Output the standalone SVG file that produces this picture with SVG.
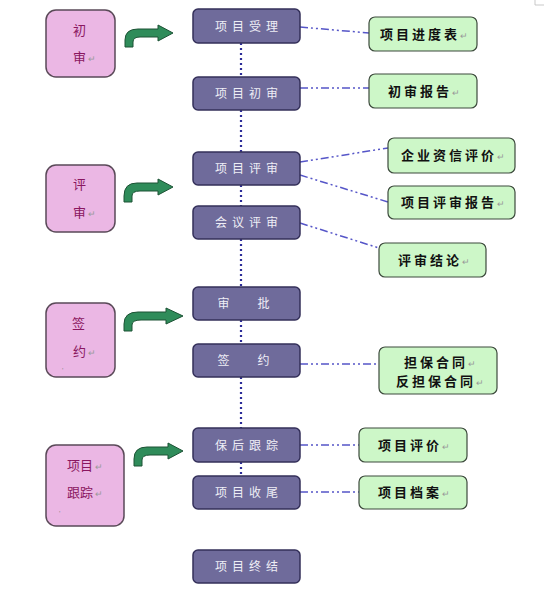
<svg xmlns="http://www.w3.org/2000/svg" width="544" height="599" viewBox="0 0 544 599">
<style>
.pink{fill:#ebb7e4;stroke:#5a4a58;stroke-width:1.5}
.purp{fill:#6f6b9b;stroke:#34305a;stroke-width:1.5}
.green{fill:#cdf7c8;stroke:#3c4a3c;stroke-width:1.2}
.arr{fill:#2f8c5a;stroke:#1c5234;stroke-width:1}
.pt{font-family:"Noto Sans CJK SC",sans-serif;font-size:13px;fill:#8a1660}
.ut{font-family:"Noto Sans CJK SC",sans-serif;font-size:12px;fill:#eeeef6;letter-spacing:5px;text-anchor:middle}
.gt{font-family:"Noto Sans CJK SC",sans-serif;font-size:13px;font-weight:bold;fill:#111;letter-spacing:3px;text-anchor:middle}
.ret{fill:#999;font-weight:normal;font-size:9px;letter-spacing:0}
.vdot{stroke:#2c2c98;stroke-width:2.2;stroke-dasharray:2,3;fill:none}
.dd{stroke:#5656c8;stroke-width:1.5;stroke-dasharray:8,3,2,3,2,3;fill:none}
</style>
<rect x="0" y="0" width="544" height="599" fill="#ffffff"/>
<path d="M535,0 V5 H544" stroke="#bbb" stroke-width="0.8" fill="none"/>

<g id="connectors">
<path class="vdot" d="M241,43 V77 M241,110 V152 M241,185 V206 M241,239 V287 M241,320 V344 M241,377 V428 M241,462 V476"/>
<path class="dd" d="M300,27 L369,33"/>
<path class="dd" d="M300,88 L369,88"/>
<path class="dd" d="M300,162 L388,148"/>
<path class="dd" d="M300,175 L388,202"/>
<path class="dd" d="M300,223 L379,248"/>
<path class="dd" d="M300,364 L379,364"/>
<path class="dd" d="M300,445 L359,445"/>
<path class="dd" d="M300,492 L359,492"/>
<path class="arr" d="M125,47 L125,40 Q125,29 138,29 L158,29 L158,25 L173,33 L158,41 L158,37 L140,37 Q133,37 133,42 L133,47 Z"/>
<path class="arr" d="M124,202 L124,196 Q124,183 137,183 L158,183 L158,179 L173,187 L158,195 L158,191 L140,191 Q132,191 132,196 L132,202 Z"/>
<path class="arr" d="M124,331 L124,324 Q124,312 138,312 L166,312 L166,308 L183,316 L166,324 L166,320 L141,320 Q132,320 132,325 L132,331 Z"/>
<path class="arr" d="M134,466 L134,459 Q134,447 147,447 L168,447 L168,443 L183,451 L168,459 L168,455 L150,455 Q142,455 142,460 L142,466 Z"/>
</g>

<g id="stage1"><rect class="pink" x="46" y="10" width="69" height="67" rx="10"/>
<text class="pt" x="73" y="35">初</text><text class="pt" x="73" y="62">审<tspan class="ret" dx="2">↵</tspan></text></g>
<g id="stage2"><rect class="pink" x="46" y="165" width="69" height="67" rx="10"/>
<text class="pt" x="73" y="189">评</text><text class="pt" x="73" y="217">审<tspan class="ret" dx="2">↵</tspan></text></g>
<g id="stage3"><rect class="pink" x="46" y="303" width="69" height="74" rx="10"/>
<text class="pt" x="72" y="328">签</text><text class="pt" x="73" y="356">约<tspan class="ret" dx="2">↵</tspan></text>
<text x="62" y="373" font-family="Liberation Sans,sans-serif" font-size="7" fill="#888">'</text></g>
<g id="stage4"><rect class="pink" x="46" y="445" width="78" height="81" rx="10"/>
<text class="pt" x="67" y="470">项目<tspan class="ret" dx="2">↵</tspan></text><text class="pt" x="67" y="497">跟踪<tspan class="ret" dx="2">↵</tspan></text>
<text x="59" y="516" font-family="Liberation Sans,sans-serif" font-size="7" fill="#888">'</text></g>

<g id="p1"><rect class="purp" x="193" y="9" width="107" height="34" rx="5"/><text class="ut" x="249" y="31">项目受理</text></g>
<g id="p2"><rect class="purp" x="193" y="77" width="107" height="33" rx="5"/><text class="ut" x="249" y="98">项目初审</text></g>
<g id="p3"><rect class="purp" x="193" y="152" width="107" height="33" rx="5"/><text class="ut" x="249" y="173">项目评审</text></g>
<g id="p4"><rect class="purp" x="193" y="206" width="107" height="33" rx="5"/><text class="ut" x="249" y="227">会议评审</text></g>
<g id="p5"><rect class="purp" x="193" y="287" width="107" height="33" rx="5"/><text class="ut" x="246" y="308" xml:space="preserve">审   批</text></g>
<g id="p6"><rect class="purp" x="193" y="344" width="107" height="33" rx="5"/><text class="ut" x="246" y="365" xml:space="preserve">签   约</text></g>
<g id="p7"><rect class="purp" x="193" y="428" width="107" height="34" rx="5"/><text class="ut" x="249" y="450">保后跟踪</text></g>
<g id="p8"><rect class="purp" x="193" y="476" width="107" height="33" rx="5"/><text class="ut" x="249" y="497">项目收尾</text></g>
<g id="p9"><rect class="purp" x="193" y="550" width="107" height="33" rx="5"/><text class="ut" x="249" y="571">项目终结</text></g>

<g id="g1"><rect class="green" x="369" y="17" width="108" height="34" rx="6"/><text class="gt" x="424" y="39">项目进度表<tspan class="ret">↵</tspan></text></g>
<g id="g2"><rect class="green" x="369" y="74" width="108" height="34" rx="6"/><text class="gt" x="424" y="96">初审报告<tspan class="ret">↵</tspan></text></g>
<g id="g3"><rect class="green" x="388" y="138" width="127" height="35" rx="6"/><text class="gt" x="453" y="160">企业资信评价<tspan class="ret">↵</tspan></text></g>
<g id="g4"><rect class="green" x="388" y="186" width="127" height="33" rx="6"/><text class="gt" x="453" y="207">项目评审报告<tspan class="ret">↵</tspan></text></g>
<g id="g5"><rect class="green" x="379" y="243" width="107" height="34" rx="6"/><text class="gt" x="434" y="265">评审结论<tspan class="ret">↵</tspan></text></g>
<g id="g6"><rect class="green" x="379" y="347" width="118" height="47" rx="6"/><text class="gt" x="440" y="367">担保合同<tspan class="ret">↵</tspan></text><text class="gt" x="440" y="386">反担保合同<tspan class="ret">↵</tspan></text></g>
<g id="g7"><rect class="green" x="359" y="428" width="108" height="34" rx="6"/><text class="gt" x="414" y="450">项目评价<tspan class="ret">↵</tspan></text></g>
<g id="g8"><rect class="green" x="359" y="476" width="108" height="33" rx="6"/><text class="gt" x="414" y="497">项目档案<tspan class="ret">↵</tspan></text></g>
</svg>
